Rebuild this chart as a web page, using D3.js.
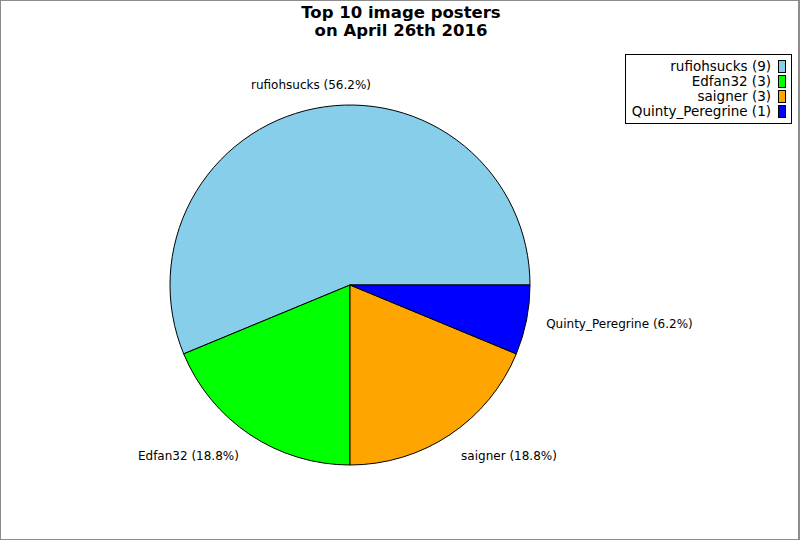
<!DOCTYPE html>
<html>
<head>
<meta charset="utf-8">
<script src="https://cdn.jsdelivr.net/npm/d3@7"></script>
<style>
  html, body { margin: 0; padding: 0; background: #fff; }
  svg { display: block; }
  text { font-family: "DejaVu Sans", sans-serif; }
</style>
</head>
<body>
<svg id="chart" width="800" height="540"></svg>
<script>
const titleLines = ["Top 10 image posters", "on April 26th 2016"];
const names = ["rufiohsucks", "Edfan32", "saigner", "Quinty_Peregrine"];
const counts = [9, 3, 3, 1];
const colors = ["#87ceeb", "#00ff00", "#ffa500", "#0000ff"];

const W = 800, H = 540;
const cx = 350, cy = 285, R = 180, labelR = 200;

const svg = d3.select("#chart");
svg.append("rect").attr("x", 0).attr("y", 0).attr("width", W).attr("height", H).attr("fill", "#fff");
// frame
svg.append("rect").attr("x", 0.5).attr("y", 0.5).attr("width", W - 2).attr("height", H - 1)
  .attr("fill", "none").attr("stroke", "#8c8c8c").attr("stroke-width", 1);
svg.append("line").attr("x1", W - 0.5).attr("x2", W - 0.5).attr("y1", 0).attr("y2", H)
  .attr("stroke", "#8c8c8c");

// title
svg.append("text").attr("text-anchor", "middle")
  .attr("font-weight", "bold").attr("font-size", 16.5)
  .selectAll("tspan").data(titleLines).join("tspan")
  .attr("x", 401).attr("y", (d, i) => 18 + i * 18).text(d => d);

const total = d3.sum(counts);
const data = names.map((n, i) => ({ name: n, value: counts[i], color: colors[i] }));

const pie = d3.pie().value(d => d.value).sort(null)
  .startAngle(Math.PI / 2).endAngle(Math.PI / 2 - 2 * Math.PI);
const arcs = pie(data);
const arc = d3.arc().innerRadius(0).outerRadius(R);

const g = svg.append("g").attr("transform", `translate(${cx},${cy})`);
g.selectAll("path").data(arcs).join("path")
  .attr("d", arc)
  .attr("fill", d => d.data.color)
  .attr("stroke", "#000").attr("stroke-width", 1).attr("stroke-linejoin", "round");

// labels (round half to even, as in the reference)
function fmt(p) {
  const v = p * 1000;
  const fl = Math.floor(v);
  const diff = v - fl;
  let n;
  if (Math.abs(diff - 0.5) < 1e-9) n = (fl % 2 === 0) ? fl : fl + 1;
  else n = Math.round(v);
  return (n / 10).toFixed(1);
}
arcs.forEach(a => {
  const mid = (a.startAngle + a.endAngle) / 2; // d3 angle: 0 = north, clockwise
  const sx = Math.sin(mid), sy = -Math.cos(mid);
  const x = sx * labelR, y = sy * labelR;
  let anchor = "middle";
  if (sx > 0.3) anchor = "start"; else if (sx < -0.3) anchor = "end";
  let dy = "0.35em";
  if (sy < -0.3) dy = "0em"; else if (sy > 0.3) dy = "0.75em";
  const pct = a.data.value / total;
  g.append("text").attr("x", x).attr("y", y).attr("dy", dy)
    .attr("text-anchor", anchor).attr("font-size", 12).attr("fill", "#000")
    .text(`${a.data.name} (${fmt(pct)}%)`);
});

// legend
const lg = svg.append("g");
lg.append("rect").attr("x", 625.5).attr("y", 54.5).attr("width", 166).attr("height", 69)
  .attr("fill", "#fff").attr("stroke", "#000").attr("stroke-width", 1);
const rowY = d3.scaleBand().domain(names).range([59, 119]).paddingInner(0);
data.forEach(d => {
  const y0 = rowY(d.name);
  lg.append("rect").attr("x", 778.5).attr("y", y0 + 1.5).attr("width", 7).attr("height", 12)
    .attr("fill", d.color).attr("stroke", "#000").attr("stroke-width", 1);
  lg.append("text").attr("x", 771).attr("y", y0 + 12)
    .attr("text-anchor", "end").attr("font-size", 13.5).text(`${d.name} (${d.value})`);
});
</script>
</body>
</html>
